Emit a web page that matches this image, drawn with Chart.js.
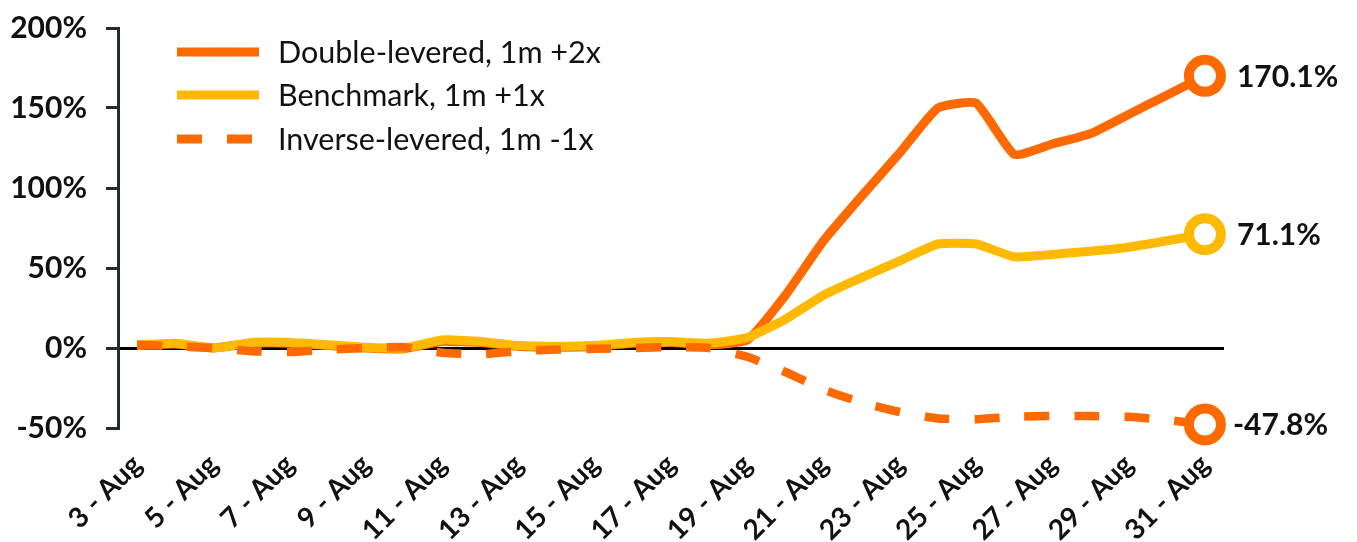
<!DOCTYPE html>
<html>
<head>
<meta charset="utf-8">
<script src="https://cdn.jsdelivr.net/npm/chart.js@4.4.1/dist/chart.umd.min.js"></script>
<style>
  html, body { margin: 0; padding: 0; background: #ffffff; }
  #wrap { width: 1357px; height: 542px; position: relative; }
</style>
</head>
<body>
<div id="wrap"><canvas id="c" width="1357" height="542"></canvas></div>
<script>
const categories = ['3 - Aug','4 - Aug','5 - Aug','6 - Aug','7 - Aug','8 - Aug','9 - Aug','10 - Aug','11 - Aug','12 - Aug','13 - Aug','14 - Aug','15 - Aug','16 - Aug','17 - Aug','18 - Aug','19 - Aug','20 - Aug','21 - Aug','22 - Aug','23 - Aug','24 - Aug','25 - Aug','26 - Aug','27 - Aug','28 - Aug','29 - Aug','30 - Aug','31 - Aug'];

const doubleLevered = [1.5, 2.5, 0, 3, 3, 1.5, 0, -0.5, 4, 3.5, 1, 0.5, 1, 3, 3.5, 2, 5, 33, 67, 95, 122, 150, 153, 121, 127.5, 134, 146, 158, 170.1];
const benchmark     = [2, 3, 0, 3.5, 3.5, 2, 0.5, 0, 5, 4, 1.5, 1, 1.5, 3.5, 4, 3, 6.5, 18, 33, 44, 54.5, 65, 65, 57, 58.5, 60.5, 63, 67, 71.1];
const inverseLevered= [2, 1, 0, -2, -2.5, -1, 0, 0.5, -3, -4, -2, -1, -0.5, 0, 0.5, 0, -5.5, -15, -26, -34, -40, -44, -44.5, -43, -42.5, -42.5, -43, -45, -47.8];

const seriesNames = ['Double-levered, 1m +2x', 'Benchmark, 1m +1x', 'Inverse-levered, 1m -1x'];
const yTicks = [-50, 0, 50, 100, 150, 200];

const ORANGE = '#ff6a00';
const YELLOW = '#ffb900';
const FONT = 'Lato, "Open Sans", sans-serif';

const lastIdx = categories.length - 1;
const endPointRadius = ctx => ctx.dataIndex === lastIdx ? 16 : 0;

const endLabels = {
  id: 'endLabels',
  afterDatasetsDraw(chart) {
    const ctx = chart.ctx;
    ctx.save();
    ctx.font = 'bold 30px ' + FONT;
    ctx.fillStyle = '#111111';
    ctx.textBaseline = 'middle';
    ctx.textAlign = 'left';
    chart.data.datasets.forEach((ds, i) => {
      const meta = chart.getDatasetMeta(i);
      const el = meta.data[lastIdx];
      if (!el) return;
      const v = ds.data[lastIdx];
      const dx = v < 0 ? 28 : 32;
      ctx.fillText(v.toFixed(1) + '%', el.x + dx, el.y + 1);
    });
    ctx.restore();
  }
};

const customLegend = {
  id: 'customLegend',
  afterDraw(chart) {
    const ctx = chart.ctx;
    const rows = [52, 95, 139];
    ctx.save();
    chart.data.datasets.forEach((ds, i) => {
      const y = rows[i];
      ctx.beginPath();
      ctx.lineWidth = 9;
      ctx.lineCap = 'butt';
      ctx.strokeStyle = ds.borderColor;
      ctx.setLineDash(ds.borderDash || []);
      ctx.moveTo(177, y);
      ctx.lineTo(259, y);
      ctx.stroke();
      ctx.setLineDash([]);
      ctx.font = '30.5px ' + FONT;
      ctx.fillStyle = '#111111';
      ctx.textBaseline = 'middle';
      ctx.textAlign = 'left';
      ctx.fillText(ds.label, 278, y + 1);
    });
    ctx.restore();
  }
};

function build() {
  new Chart(document.getElementById('c'), {
    type: 'line',
    data: {
      labels: categories,
      datasets: [
        {
          label: seriesNames[0], data: doubleLevered,
          borderColor: ORANGE, backgroundColor: '#ffffff', borderWidth: 9,
          pointRadius: endPointRadius, pointBorderWidth: 10,
          pointBackgroundColor: '#ffffff', pointBorderColor: ORANGE,
          tension: 0.15, order: 3, clip: false
        },
        {
          label: seriesNames[1], data: benchmark,
          borderColor: YELLOW, backgroundColor: '#ffffff', borderWidth: 9,
          pointRadius: endPointRadius, pointBorderWidth: 10,
          pointBackgroundColor: '#ffffff', pointBorderColor: YELLOW,
          tension: 0.15, order: 2, clip: false
        },
        {
          label: seriesNames[2], data: inverseLevered,
          borderColor: ORANGE, backgroundColor: '#ffffff', borderWidth: 8.5,
          borderDash: [25, 25], borderCapStyle: 'butt',
          pointRadius: endPointRadius, pointBorderWidth: 10,
          pointBackgroundColor: '#ffffff', pointBorderColor: ORANGE,
          tension: 0.15, order: 1, clip: false
        }
      ]
    },
    options: {
      responsive: false,
      animation: false,
      layout: { padding: { top: 28, right: 133, left: 0, bottom: 0 } },
      plugins: {
        legend: { display: false },
        tooltip: { enabled: false }
      },
      scales: {
        x: {
          offset: true,
          grid: { display: false, drawTicks: false },
          border: { display: false },
          ticks: {
            autoSkip: false,
            minRotation: 45,
            maxRotation: 45,
            padding: 20,
            color: '#111111',
            font: { family: FONT, size: 28, weight: 'bold' },
            callback: function(value, index) {
              return index % 2 === 0 ? this.getLabelForValue(value) : '';
            }
          },
          afterFit(scale) { scale.height = 114; scale.paddingLeft = 0; scale.paddingRight = 0; }
        },
        y: {
          min: yTicks[0],
          max: yTicks[yTicks.length - 1],
          afterBuildTicks(scale) { scale.ticks = yTicks.map(v => ({ value: v })); },
          grid: {
            drawOnChartArea: true,
            drawTicks: true,
            tickLength: 12,
            tickWidth: 3,
            tickColor: '#222b35',
            lineWidth: 3,
            color: ctx => (ctx.tick && ctx.tick.value === 0) ? '#000000' : 'rgba(0,0,0,0)'
          },
          border: { display: true, color: '#222b35', width: 3 },
          ticks: {
            padding: 19,
            color: '#111111',
            font: { family: FONT, size: 30, weight: 'bold' },
            callback: v => v + '%'
          },
          afterFit(scale) { scale.width = 118; scale.paddingTop = 0; scale.paddingBottom = 0; }
        }
      }
    },
    plugins: [endLabels, customLegend]
  });
}

if (document.fonts && document.fonts.load) {
  Promise.all([
    document.fonts.load('bold 30px Lato'),
    document.fonts.load('30px Lato')
  ]).then(build, build);
} else {
  build();
}
</script>
</body>
</html>
